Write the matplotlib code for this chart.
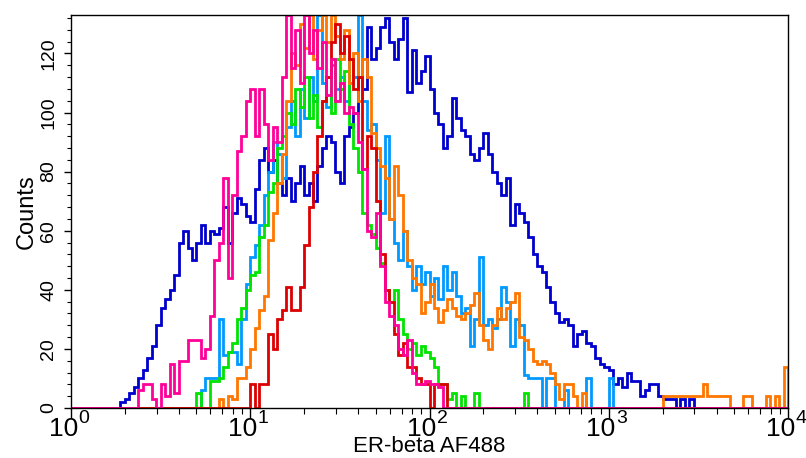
import numpy as np
import matplotlib
matplotlib.use('Agg')
import matplotlib.pyplot as plt
import matplotlib.transforms as mtransforms
from matplotlib.ticker import FixedLocator, MultipleLocator, NullFormatter

plt.rcParams['font.family'] = ['Liberation Sans', 'DejaVu Sans']

# canales: 40 por década, de 10^0 a 10^4
bins_per_decade = 40
n_bins = 160
decades = [0, 1, 2, 3, 4]

# cada curva: primer canal con datos + cuentas
blue_start = 11
blue_counts = [2, 3, 5, 7, 10, 13, 17, 21, 28, 34, 37, 40, 45, 56, 60, 54, 50, 56, 62, 56,
               60, 59, 61, 68, 56, 66, 71, 69, 65, 63, 74, 84, 88, 80, 84, 76, 72, 78, 70, 76,
               82, 72, 76, 70, 82, 88, 92, 90, 80, 76, 92, 95, 100, 112, 108, 129, 118, 122, 129, 132,
               124, 118, 125, 132, 107, 121, 110, 114, 119, 108, 100, 96, 88, 92, 105, 98, 94, 92, 86, 84,
               88, 93, 86, 80, 76, 72, 78, 62, 69, 66, 63, 58, 52, 48, 46, 41, 36, 32, 29, 30,
               28, 21, 25, 26, 22, 21, 17, 15, 14, 13, 8, 10, 7, 12, 9, 9, 4, 6, 8, 8,
               4, 3, 3, 3, 0, 3, 0, 3]

magenta_start = 15
magenta_counts = [6, 8, 8, 3, 0, 8, 4, 15, 5, 16, 16, 23, 23, 23, 17, 20, 31, 50, 56, 78,
                  44, 72, 87, 92, 104, 108, 92, 108, 96, 84, 95, 90, 112, 133, 115, 128, 110, 133, 120, 128,
                  115, 124, 106, 118, 104, 110, 100, 102, 100, 90, 81, 60, 58, 66, 48, 36, 31, 28, 20, 18,
                  23, 12, 8, 8, 9, 8, 8, 7]

green_start = 28
green_counts = [5, 0, 0, 9, 9, 10, 14, 19, 22, 30, 34, 40, 45, 46, 58, 62, 73, 76, 88, 92,
                100, 96, 108, 102, 112, 98, 106, 95, 104, 112, 100, 118, 108, 114, 96, 88, 80, 66, 62, 59,
                54, 49, 40, 36, 40, 30, 25, 20, 22, 18, 21, 19, 17, 14, 8, 8, 3, 5, 0, 4,
                0, 0, 5, 0, 0, 0, 0, 0, 0, 0, 0, 0, 0, 5]

lightblue_start = 29
lightblue_counts = [6, 10, 10, 10, 30, 18, 19, 19, 15, 30, 42, 51, 55, 62, 72, 80, 90, 86, 78, 95,
                    104, 92, 108, 98, 112, 104, 133, 110, 102, 116, 108, 112, 104, 118, 112, 133, 104, 94, 96, 84,
                    66, 92, 64, 56, 50, 60, 48, 40, 48, 42, 46, 38, 44, 37, 48, 40, 46, 38, 32, 34,
                    21, 30, 51, 28, 30, 27, 30, 41, 36, 21, 30, 28, 11, 10, 10, 10, 0, 10, 10, 0,
                    0, 6, 0, 0, 0, 0, 10, 0, 0, 0, 0, 10]

orange_start = 33
orange_counts = [3, 0, 4, 3, 10, 10, 14, 20, 27, 33, 38, 57, 66, 76, 86, 104, 120, 116, 130, 122,
                 133, 118, 128, 133, 124, 133, 126, 118, 128, 110, 120, 104, 118, 112, 93, 88, 82, 78, 64, 82,
                 72, 60, 50, 44, 42, 32, 36, 42, 34, 29, 33, 37, 34, 31, 30, 32, 35, 39, 28, 23,
                 20, 28, 34, 30, 34, 36, 39, 24, 23, 20, 16, 15, 16, 15, 12, 8, 3, 8, 8, 4,
                 0, 5, 0, 0, 0, 0, 0, 0, 0, 0, 0, 0, 0, 0, 0, 0, 0, 0, 0, 4,
                 4, 4, 4, 4, 4, 4, 4, 4, 8, 4, 4, 4, 4, 4, 0, 0, 0, 4, 4, 0,
                 0, 0, 4, 0, 4, 0, 14]

red_start = 40
red_counts = [8, 0, 8, 8, 25, 20, 30, 33, 41, 33, 33, 41, 55, 68, 80, 92, 104, 112, 124, 130,
              120, 126, 118, 108, 112, 81, 92, 88, 70, 52, 40, 36, 25, 18, 22, 14, 14, 10, 8, 8,
              0, 8, 8, 8]

series = [
    (blue_start, blue_counts, '#0000CC'),
    (lightblue_start, lightblue_counts, '#0099FF'),
    (green_start, green_counts, '#00E400'),
    (orange_start, orange_counts, '#FF7700'),
    (red_start, red_counts, '#DD0000'),
    (magenta_start, magenta_counts, '#FF0099'),
]

edges = 10 ** (np.arange(n_bins + 1) / bins_per_decade)

fig = plt.figure(figsize=(8.06, 4.58), dpi=100)
ax = fig.add_axes([71 / 806, 50 / 458, 717 / 806, 393 / 458])

for start, counts, color in series:
    vals = np.zeros(n_bins)
    vals[start:start + len(counts)] = counts
    ax.stairs(vals, edges, baseline=0, color=color, lw=2.0)

ax.set_xscale('log')
ax.set_xlim(1, 1e4)
ax.set_ylim(0, 133)

ax.xaxis.set_major_locator(FixedLocator([10 ** d for d in decades]))
ax.xaxis.set_major_formatter(NullFormatter())
minor = [m * 10 ** d for d in decades[:-1] for m in range(2, 10)]
ax.xaxis.set_minor_locator(FixedLocator(minor))
ax.xaxis.set_minor_formatter(NullFormatter())

# etiquetas 10^n a mano: base y exponente como textos separados
trans = ax.get_xaxis_transform()
for d in decades:
    t_base = mtransforms.offset_copy(trans, fig=fig, x=7, y=-9, units='dots')
    t_exp = mtransforms.offset_copy(trans, fig=fig, x=7, y=-2, units='dots')
    ax.text(10 ** d, 0, '10', transform=t_base, ha='right', va='top', fontsize=19, clip_on=False)
    ax.text(10 ** d, 0, str(d), transform=t_exp, ha='left', va='top', fontsize=14, clip_on=False)

ax.yaxis.set_major_locator(MultipleLocator(20))
ax.yaxis.set_minor_locator(MultipleLocator(4))

ax.tick_params(axis='x', which='major', direction='out', length=7, width=1)
ax.tick_params(axis='x', which='minor', direction='out', length=4, width=0.8)
ax.tick_params(axis='y', which='major', direction='out', length=5, width=1, labelsize=14, pad=5)
ax.tick_params(axis='y', which='minor', direction='out', length=3, width=0.8)
for lab in ax.get_yticklabels():
    lab.set_rotation(90)
    lab.set_va('center')

for s in ax.spines.values():
    s.set_linewidth(1)

ax.set_xlabel('ER-beta AF488', fontsize=16)
ax.xaxis.set_label_coords(0.5, -49.5 / 393)
ax.xaxis.label.set_va('bottom')
ax.set_ylabel('Counts', fontsize=17, labelpad=2)

fig.savefig('out.png', dpi=100)
